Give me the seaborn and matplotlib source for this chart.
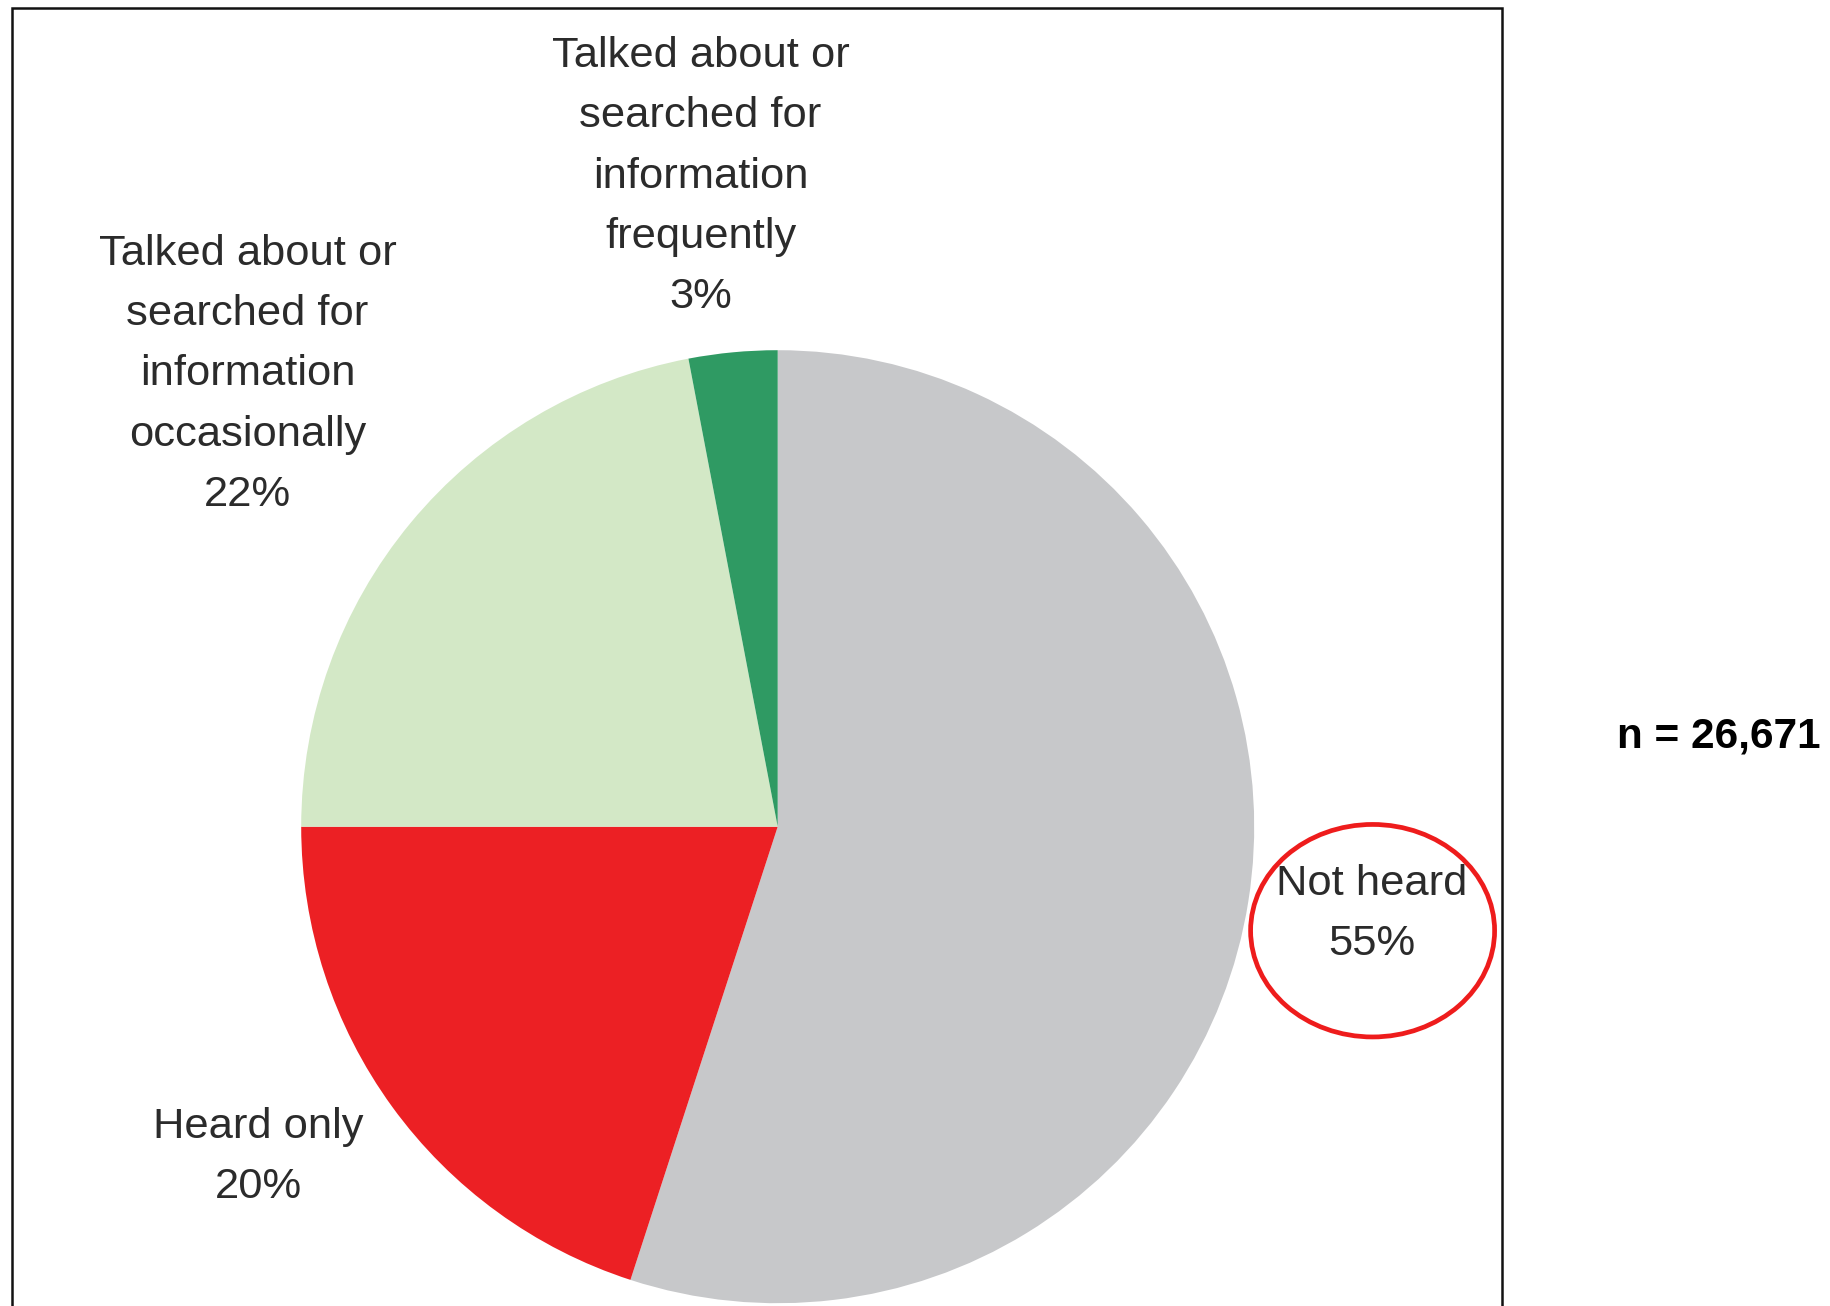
import matplotlib
matplotlib.use("Agg")
import matplotlib.pyplot as plt
from matplotlib.patches import Rectangle, Ellipse
import seaborn as sns

# Survey responses (share of respondents, %)
categories = [
    "Not heard",
    "Heard only",
    "Talked about or\nsearched for\ninformation\noccasionally",
    "Talked about or\nsearched for\ninformation\nfrequently",
]
shares = [55, 20, 22, 3]
sample_note = "n = 26,671"

slice_colors = ["#c7c8ca", "#ec2024", "#d3e8c6", "#2f9a63"]

sns.set_theme(style="white")
plt.rcParams["font.family"] = ["Liberation Sans", "DejaVu Sans"]

W, H = 1831, 1306
fig = plt.figure(figsize=(W / 100, H / 100), dpi=100)
ax = fig.add_axes([0, 0, 1, 1])

palette = sns.color_palette(slice_colors)
cx, cy, r = 777.7, H - 826.7, 476.5
ax.pie(shares, colors=palette, startangle=90, counterclock=False,
       center=(cx, cy), radius=r, wedgeprops=dict(linewidth=0))

ax.set_xlim(0, W)
ax.set_ylim(0, H)
ax.set_aspect("equal")
ax.axis("off")

# label anchors (pixel space, y measured from top)
label_xy = [(1372, 914), (258, 1157), (247.6, 374.5), (700.6, 176.5)]
for cat, val, (lx, ly) in zip(categories, shares, label_xy):
    ax.text(lx, H - ly, f"{cat}\n{val}%", ha="center", va="center",
            fontsize=31.3, color="#2b2b2b", linespacing=1.657,
            multialignment="center")

# highlight around the largest group
ax.add_patch(Ellipse((1372.6, H - 930.7), 244, 212.5, fill=False,
                     edgecolor="#ee1c1c", linewidth=3.4))

# chart frame
ax.add_patch(Rectangle((11.7, -20), 1501.7 - 11.7, H - 8.2 + 20,
                       fill=False, edgecolor="#111111", linewidth=1.8))

ax.text(1719, H - 736.5, sample_note, ha="center", va="center",
        fontsize=30.4, fontweight="bold", color="black")

fig.savefig("out.png", dpi=100)
